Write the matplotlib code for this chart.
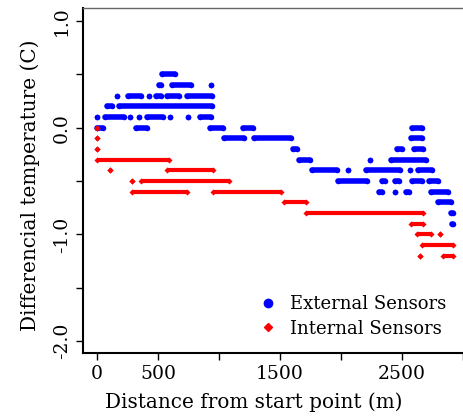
"""Differential temperature along the route: external vs internal sensors."""

import matplotlib
matplotlib.use("Agg")
import matplotlib.pyplot as plt
from matplotlib.lines import Line2D

# runs of consecutive readings: (level in C, start m, end m)
EXT_LEVEL = [0.5,
             0.4, 0.4, 0.4,
             0.3, 0.3, 0.3, 0.3, 0.3, 0.3,
             0.2, 0.2,
             0.1, 0.1, 0.1, 0.1, 0.1, 0.1, 0.1, 0.1,
             0.0, 0.0, 0.0, 0.0, 0.0,
             -0.1, -0.1, -0.1,
             -0.2, -0.2, -0.2,
             -0.3, -0.3, -0.3,
             -0.4, -0.4, -0.4, -0.4, -0.4,
             -0.5, -0.5, -0.5, -0.5, -0.5,
             -0.6, -0.6, -0.6, -0.6,
             -0.7, -0.8, -0.9]
EXT_START = [530,
             505, 615, 935,
             166, 252, 424, 483, 573, 736,
             83, 178,
             0, 64, 268, 342, 410, 600, 748, 845,
             0, 322, 927, 1192, 2580,
             1041, 1286, 2575,
             1608, 2455, 2602,
             1654, 2234, 2411,
             1758, 2056, 2201, 2568, 2634,
             1976, 2338, 2444, 2580, 2724,
             2308, 2439, 2534, 2738,
             2798, 2902, 2910]
EXT_END = [640,
           520, 770, 935,
           166, 356, 424, 520, 670, 942,
           119, 942,
           0, 220, 268, 342, 541, 600, 748, 936,
           50, 410, 1029, 1274, 2663,
           1205, 1589, 2665,
           1636, 2502, 2676,
           1745, 2234, 2698,
           1963, 2056, 2486, 2568, 2747,
           2214, 2357, 2472, 2665, 2794,
           2336, 2439, 2554, 2875,
           2902, 2916, 2916]

INT_LEVEL = [0.0, -0.1, -0.2, -0.3,
             -0.4, -0.4,
             -0.5, -0.5,
             -0.6, -0.6,
             -0.7, -0.8, -0.9,
             -1.0, -1.0,
             -1.1,
             -1.2, -1.2]
INT_START = [0, 0, 0, 0,
             104, 573,
             286, 355,
             287, 949,
             1535, 1711, 2575,
             2624, 2813,
             2665,
             2650, 2834]
INT_END = [0, 0, 0, 590,
           104, 950,
           286, 1078,
           737, 1508,
           1710, 2671, 2671,
           2739, 2813,
           2916,
           2650, 2916]

X_TICKS = [0, 500, 1000, 1500, 2000, 2500, 3000]
X_LABELS = ["0", "500", "", "1500", "", "2500", ""]
Y_TICKS = [-2.0, -1.5, -1.0, -0.5, 0.0, 0.5, 1.0]
Y_LABELS = ["-2.0", "", "-1.0", "", "0.0", "", "1.0"]

BLUE = "#0000ff"
RED = "#ff0000"

plt.rcParams["font.family"] = ["DejaVu Serif"]
plt.rcParams["font.size"] = 13


def draw_runs(ax, levels, starts, ends, color, marker, ms, lw, cap):
    for lvl, s, e in zip(levels, starts, ends):
        ax.plot([s, e], [lvl, lvl], color=color, lw=lw, solid_capstyle=cap,
                marker=marker, ms=ms, mec=color, mfc=color, mew=0)


def main() -> None:
    fig = plt.figure(figsize=(4.63, 4.17), dpi=100)
    ax = fig.add_axes([0.18, 0.1535, 0.82, 0.8285])

    draw_runs(ax, EXT_LEVEL, EXT_START, EXT_END, BLUE, "o", 4.0, 4.0, "round")
    draw_runs(ax, INT_LEVEL, INT_START, INT_END, RED, "D", 3.1, 3.0, "butt")

    ax.set_xlim(-114, 2988)
    ax.set_ylim(-2.111, 1.127)

    ax.set_xticks(X_TICKS)
    ax.set_xticklabels(X_LABELS)
    ax.set_yticks(Y_TICKS)
    ax.set_yticklabels(Y_LABELS, rotation=90, va="center")
    ax.tick_params(direction="out", length=5, width=1, pad=4, labelsize=13.5)

    ax.spines["right"].set_visible(False)
    ax.spines["top"].set_linewidth(1.0)
    ax.spines["top"].set_color("#666666")
    for side in ("left", "bottom"):
        ax.spines[side].set_linewidth(1.5)

    ax.set_xlabel("Distance from start point (m)", fontsize=14.4)
    ax.xaxis.set_label_coords(0.45, -0.115)
    ax.set_ylabel("Differencial temperature (C)", fontsize=14.4)
    ax.yaxis.set_label_coords(-0.115, 0.485)

    handles = [
        Line2D([], [], ls="none", marker="o", ms=6, color=BLUE,
               label="External Sensors"),
        Line2D([], [], ls="none", marker="D", ms=4.5, color=RED,
               label="Internal Sensors"),
    ]
    ax.legend(handles=handles, loc="lower right", frameon=False,
              bbox_to_anchor=(0.998, 0.151), bbox_transform=fig.transFigure,
              handlelength=0.8, handletextpad=0.8, labelspacing=0.35,
              fontsize=13)

    fig.savefig("out.png", dpi=100)
    plt.close(fig)


if __name__ == "__main__":
    main()
